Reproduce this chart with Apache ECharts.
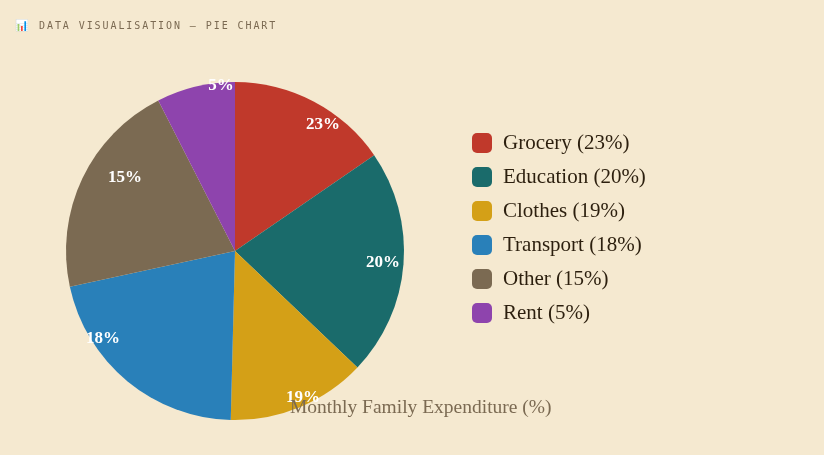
<!DOCTYPE html>
<html>
<head>
<meta charset="utf-8">
<script src="https://cdn.jsdelivr.net/npm/echarts@6/dist/echarts.min.js"></script>
<style>
html,body{margin:0;padding:0;background:#F5E9D0;width:824px;height:455px;overflow:hidden}
#header{position:absolute;left:39px;top:19px;font:10px "DejaVu Sans Mono","Liberation Mono",monospace;letter-spacing:1.92px;color:#7B6A52;white-space:pre;line-height:13px}
#icon{position:absolute;left:15px;top:19px;font:11px "DejaVu Sans",sans-serif;line-height:13px}
#chart{position:absolute;left:0;top:0;width:824px;height:455px}
</style>
</head>
<body>
<div id="chart"></div>
<div id="icon">📊</div>
<div id="header">DATA VISUALISATION — PIE CHART</div>
<script>
var categories = ['Grocery','Education','Clothes','Transport','Other','Rent'];
var statedPercent = [23,20,19,18,15,5];
var sliceValues = [15.4,21.7,13.3,21.2,20.9,7.5];
var colors = ['#C0392B','#1A6B6B','#D4A017','#2980B9','#7B6A52','#8E44AD'];
var labelX = [323,383,303,103,125,221];
var labelY = [125,263,398,339,178,86];
var serif = '"Liberation Serif","DejaVu Serif",serif';

var chart = echarts.init(document.getElementById('chart'), null, {renderer:'canvas'});
chart.setOption({
  animation:false,
  backgroundColor:'#F5E9D0',
  color:colors,
  title:{
    text:'Monthly Family Expenditure (%)',
    left:285, top:393,
    textStyle:{fontFamily:serif,fontSize:19.5,fontWeight:'normal',color:'#7B6A52'}
  },
  legend:{
    orient:'vertical',left:472,top:131,padding:0,
    icon:'roundRect',itemWidth:20,itemHeight:20,itemGap:10,
    data:categories,
    formatter:function(name){return name+' ('+statedPercent[categories.indexOf(name)]+'%)';},
    textStyle:{fontFamily:serif,fontSize:21,lineHeight:20,color:'#2C1F0E',padding:[4,0,0,6]},
    selectedMode:false
  },
  series:[{
    type:'pie',
    center:[235,251],radius:[0,169],
    startAngle:90,clockwise:true,
    minShowLabelAngle:0,
    labelLine:{show:false},
    itemStyle:{borderWidth:0},
    label:{show:true,position:'inside',color:'#fff',fontFamily:serif,fontSize:17,fontWeight:'bold',
      formatter:function(p){return statedPercent[p.dataIndex]+'%';}},
    labelLayout:function(p){
      return {x:labelX[p.dataIndex],y:labelY[p.dataIndex],align:'center',verticalAlign:'middle'};
    },
    emphasis:{disabled:true},
    data:categories.map(function(c,i){return {name:c,value:sliceValues[i]};})
  }]
});
</script>
</body>
</html>
